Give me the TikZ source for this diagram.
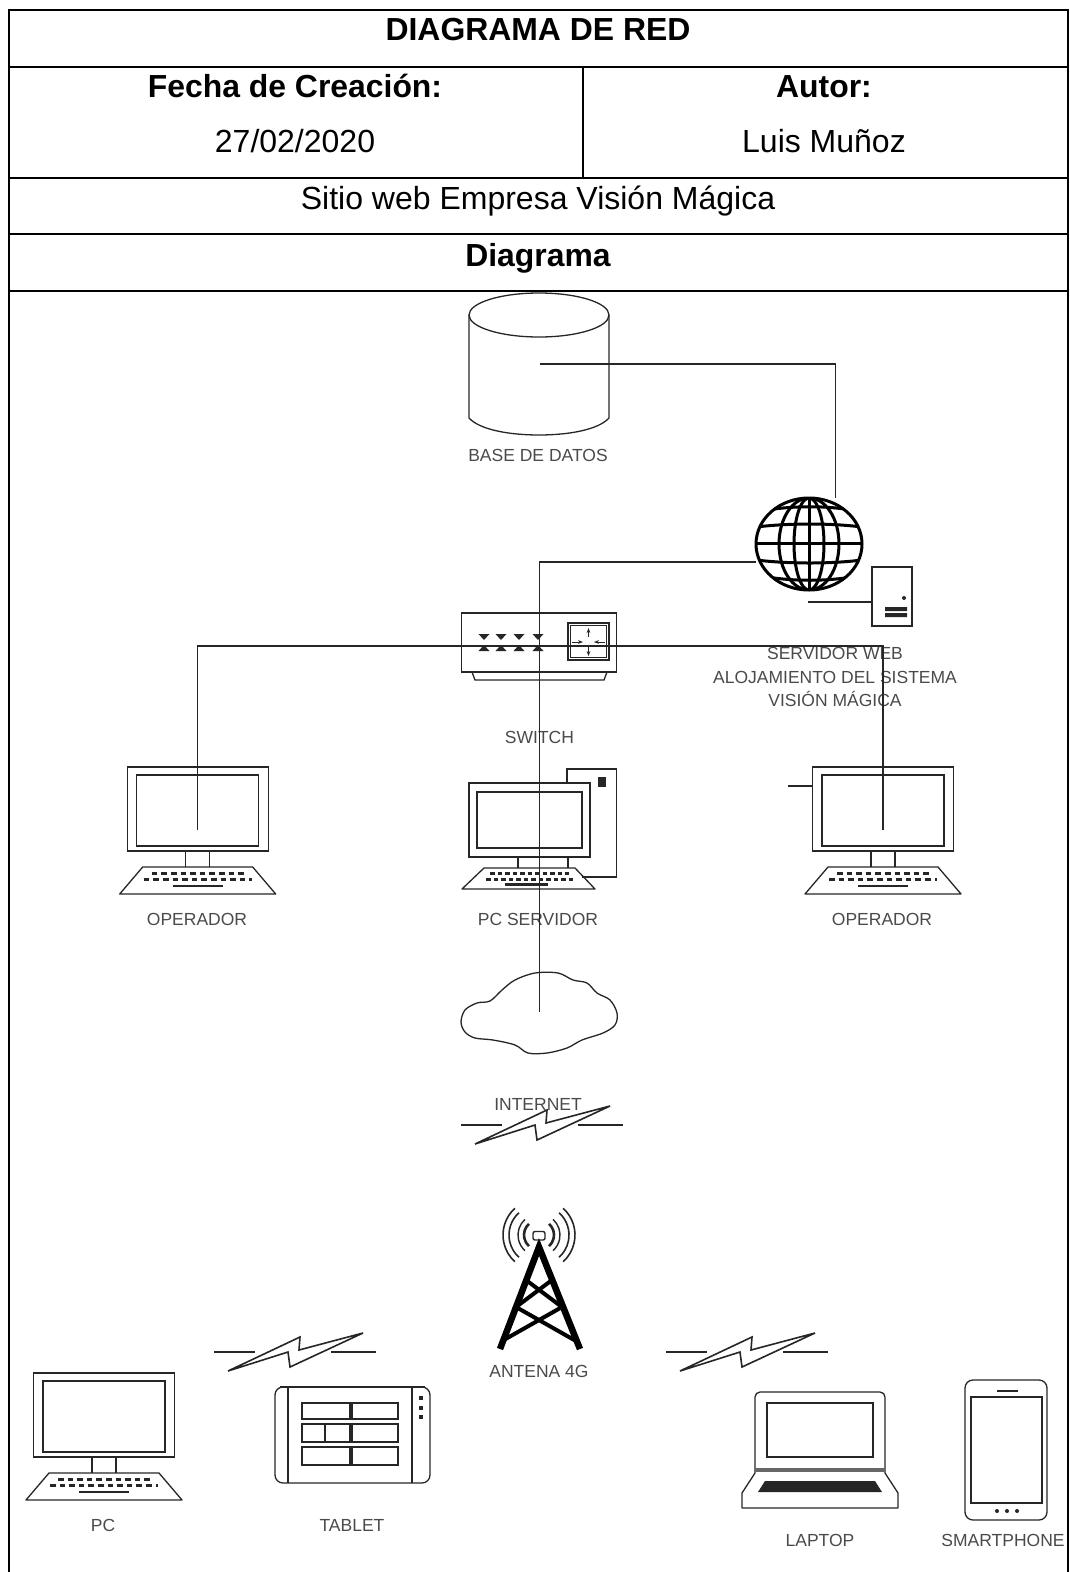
\documentclass[tikz,border=0pt]{standalone}
\usepackage{fontspec}
\setmainfont{Liberation Sans}
\usepackage{xcolor}
\usetikzlibrary{positioning,shapes.geometric,arrows.meta}
\definecolor{ink}{HTML}{262626}
\definecolor{labelgray}{HTML}{4A4A4A}
\tikzset{
  tableline/.style={draw=black, line width=2pt},
  headbold/.style={font=\fontsize{31.9}{36}\selectfont\bfseries, inner sep=0pt, text=black},
  headtext/.style={font=\fontsize{32}{36}\selectfont, inner sep=0pt, text=black},
  iconlabel/.style={font=\fontsize{17.5}{23.5}\selectfont, inner sep=0pt, align=center, text=labelgray},
  iconline/.style={draw=ink, line width=1.3pt},
  wireline/.style={draw=ink, line width=1.2pt},
  globeline/.style={draw=black, line width=3pt},
  keyrow/.style={draw=ink, line width=3pt, dash pattern=on 5.6pt off 4pt},
  monitorpic/.pic={
    \coordinate (-screen) at (0,63);
    \draw[iconline] (-70.5,0) rectangle (70.5,84);
    \draw[iconline] (-61,8) rectangle (61,79);
    \draw[iconline] (-12,84) -- (-12,100) (12,84) -- (12,100);
    \draw[iconline, line join=round] (-55,100) -- (55,100) -- (78,127) -- (-78,127) -- cycle;
    \draw[keyrow] (-46,106) -- (46,106);
    \draw[keyrow] (-54,112) -- (54,112);
    \draw[draw=ink, line width=2.5pt] (-25,119) -- (25,119);
  },
  boltpic/.pic={
    \draw[iconline] (-79,0) -- (-38,0) (38,0) -- (83,0);
    \draw[draw=ink, line width=1.6pt, line join=miter] (-65,19) -- (7,-15) -- (6,-2) -- (70,-19) -- (-3,15) -- (-5,0) -- cycle;
  },
}
\begin{document}
\begin{tikzpicture}[x=1pt,y=-1pt]
\useasboundingbox (0,0) rectangle (1070,1572);

% Table frame
\draw[tableline] (9,1572) -- (9,9.5) -- (1067.5,9.5) -- (1067.5,1572);
\draw[tableline] (9,66.5) -- (1067.5,66.5);
\draw[tableline] (9,178) -- (1067.5,178);
\draw[tableline] (9,234) -- (1067.5,234);
\draw[tableline] (9,291) -- (1067.5,291);
\draw[draw=black, line width=1.2pt] (583,66.5) -- (583,178);

% Table texts
\node[headbold] (title) at (538,30) {DIAGRAMA DE RED};
\node[headbold] (fecha) at (295,86) {Fecha de Creación:};
\node[headtext] (fechaval) at (295,141.5) {27/02/2020};
\node[headbold] (autor) at (824,87) {Autor:};
\node[headtext] (autorval) at (824,141.5) {Luis Muñoz};
\node[headtext] (sitio) at (538,201.5) {Sitio web Empresa Visión Mágica};
\node[headbold] (diag) at (538,258) {Diagrama};

% Database
\node[minimum width=140pt, minimum height=142pt, inner sep=0pt] (db) at (539.5,364) {};
\draw[iconline] (539,315) ellipse (70pt and 22pt);
\draw[iconline] (469,315) -- (469,418) .. controls (480,430) and (510,435) .. (539,435) .. controls (568,435) and (598,430) .. (609,418) -- (609,315);
\node[iconlabel] (dblabel) at (538,455) {BASE DE DATOS};

% Globe
\node[ellipse, globeline, minimum width=106pt, minimum height=92pt, inner sep=0pt] (globe) at (809,544) {};
\coordinate (globetop) at (835.5,498);
\coordinate (globeleft) at (756,562);
\begin{scope}
  \clip (globe.center) ellipse (53pt and 46pt);
  \foreach \py/\pb in {512/505, 527/523, 543/543, 560/564, 575/582}
    \draw[globeline] (756,\py) .. controls (790,\pb) and (830,\pb) .. (862,\py);
  \draw[globeline] (globe.center) ellipse (30pt and 46pt);
  \draw[globeline] (globe.center) ellipse (15pt and 46pt);
  \draw[globeline] (809,498) -- (809,590);
\end{scope}

% Web server
\node[rectangle, iconline, minimum width=40pt, minimum height=59pt, inner sep=0pt] (web) at (892,596.5) {};
\coordinate (webstub) at (808,602);
\draw[fill=ink, draw=none] (885,607) rectangle (907,611) (885,613) rectangle (907,617);
\fill[ink] (904,598) circle (2pt);
\node[iconlabel] (weblabel) at (835,677) {SERVIDOR WEB\\ALOJAMIENTO DEL SISTEMA\\VISIÓN MÁGICA};

% Switch
\node[rectangle, iconline, minimum width=155.5pt, minimum height=59pt, inner sep=0pt] (switchbox) at (539,642.5) {};
\coordinate (switchmid) at (539.6,646);
\draw[iconline] (472,672) -- (475,680) -- (604,680) -- (607,672);
\foreach \px in {484,501,519,538} {
  \fill[ink] (\px-5.5,634) -- (\px+5.5,634) -- (\px,640) -- cycle;
  \fill[ink] (\px-5.5,651) -- (\px+5.5,651) -- (\px,645) -- cycle;
}
\draw[iconline] (568,623) rectangle (609,660);
\draw[iconline] (570.5,625.5) rectangle (606.5,657.5);
\draw[draw=ink, line width=1pt, -{Stealth[length=5pt]}] (588.5,637) -- (588.5,628);
\draw[draw=ink, line width=1pt, -{Stealth[length=5pt]}] (588.5,647) -- (588.5,656);
\draw[draw=ink, line width=1pt, -{Stealth[length=5pt]}] (572,642) -- (583,642);
\draw[draw=ink, line width=1pt, -{Stealth[length=5pt]}] (605,642) -- (594,642);
\node[iconlabel] (switchlabel) at (539.5,737) {SWITCH};

% Operators and PC server
\pic (opleft) at (197.7,767) {monitorpic};
\pic (opright) at (883,767) {monitorpic};
\coordinate (oprightstub) at (788,786);
\coordinate (oprightedge) at (812.5,786);
\node[iconlabel] (opleftlabel) at (197,919) {OPERADOR};
\node[iconlabel] (oprightlabel) at (882,919) {OPERADOR};

\draw[iconline] (567,783) -- (567,769) -- (616.5,769) -- (616.5,877) -- (582,877);
\fill[ink] (597.5,777) rectangle (606,787);
\draw[iconline] (469,783) rectangle (590,857);
\draw[iconline] (477,792) rectangle (582,848);
\draw[iconline] (518,857) -- (518,868) (568,857) -- (568,868);
\draw[iconline, line join=round] (484,868) -- (575,868) -- (595,889) -- (462,889) -- cycle;
\draw[keyrow, dash pattern=on 4.5pt off 3pt] (490,873) -- (569,873);
\draw[keyrow, dash pattern=on 4.5pt off 3pt] (486,879) -- (574,879);
\draw[draw=ink, line width=2.5pt] (505,884.5) -- (548,884.5);
\node[iconlabel] (pcsrvlabel) at (538,919) {PC SERVIDOR};

% Cloud
\draw[iconline] plot[smooth cycle, tension=0.55] coordinates {(461,1022) (465,1010) (477,1003) (490,1001) (502,990) (515,980) (535,973) (558,973) (573,980) (587,983) (597,993) (610,1000) (617,1013) (615,1025) (603,1033) (582,1040) (567,1048) (547,1053) (528,1053) (515,1045) (493,1040) (475,1038) (465,1032)};
\coordinate (cloudmid) at (539.6,1012);

% Wires
\draw[wireline] (db.center) -| (globetop);
\draw[wireline] (globeleft) -| (cloudmid);
\draw[wireline] (opleft-screen) |- (switchmid) -| (opright-screen);
\draw[wireline] (webstub) -- (web.west |- webstub);
\draw[wireline] (oprightstub) -- (oprightedge);

% Links
\pic (linkup) at (540,1125) {boltpic};
\node[iconlabel] (netlabel) at (538,1104) {INTERNET};
\pic (linkleft) at (293,1352) {boltpic};
\pic (linkright) at (745,1352) {boltpic};

% Antenna
\coordinate (apex) at (539,1247);
\draw[draw=black, line width=6.5pt, line join=miter] (500,1349) -- (apex) -- (580,1349);
\draw[draw=black, line width=4pt] (552,1280) -- (516,1307) -- (576,1341);
\draw[draw=black, line width=4pt] (526,1280) -- (562,1307) -- (502,1341);
\draw[draw=ink, line width=1.4pt, rounded corners=2pt] (533,1231.5) rectangle (545,1240);
\foreach \rr/\lw in {36/1.6, 30/1.6, 21/1.4, 15/2.6} {
  \draw[draw=ink, line width=\lw pt] (539,1235) ++(48:\rr pt) arc[start angle=48, end angle=-48, radius=\rr pt];
  \draw[draw=ink, line width=\lw pt] (539,1235) ++(132:\rr pt) arc[start angle=132, end angle=228, radius=\rr pt];
}
\node[iconlabel] (antlabel) at (539,1371) {ANTENA 4G};

% PC
\pic (pcleft) at (104,1373) {monitorpic};
\node[iconlabel] (pclabel) at (103,1525) {PC};

% Tablet
\node[rectangle, rounded corners=8pt, iconline, minimum width=155pt, minimum height=96pt, inner sep=0pt] (tablet) at (352.5,1435) {};
\draw[iconline] (288,1387) -- (288,1483) (412,1387) -- (412,1483);
\draw[draw=ink, line width=2.5pt] (280,1387) -- (425,1387);
\foreach \ty/\tb in {1403/1419, 1424/1442, 1447/1465}
  \draw[iconline] (302,\ty) rectangle (350,\tb) (352,\ty) rectangle (398,\tb);
\draw[iconline] (325,1424) -- (325,1442);
\foreach \ty in {1398,1408,1417}
  \fill[ink] (419,\ty-2) rectangle (423,\ty+2);
\node[iconlabel] (tabletlabel) at (352,1525) {TABLET};

% Laptop
\draw[iconline, rounded corners=5pt] (755,1473) -- (755,1392) -- (885,1392) -- (885,1473);
\draw[iconline] (767,1403) rectangle (873,1457);
\draw[draw=ink!70, line width=4pt] (755,1470) -- (885,1470);
\draw[iconline, line join=round] (755,1473) -- (742,1493) -- (742,1508) -- (898,1508) -- (898,1493) -- (885,1473);
\fill[ink] (765,1481) -- (875,1481) -- (882,1492) -- (758,1492) -- cycle;
\node[iconlabel] (laptoplabel) at (820,1540) {LAPTOP};

% Smartphone
\node[rectangle, rounded corners=8pt, iconline, minimum width=82pt, minimum height=140pt, inner sep=0pt] (phone) at (1006,1450) {};
\draw[iconline] (971,1397) rectangle (1042,1503);
\draw[draw=ink, line width=2pt] (997,1391) -- (1018,1391);
\foreach \px in {997,1007,1017}
  \fill[ink] (\px,1511) circle (2pt);
\node[iconlabel] (phonelabel) at (1003,1540) {SMARTPHONE};
\end{tikzpicture}
\end{document}
